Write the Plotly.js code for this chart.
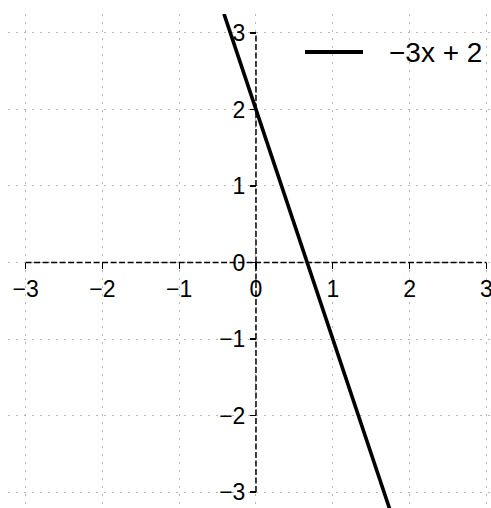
<!DOCTYPE html>
<html>
<head>
<meta charset="utf-8">
<script src="https://cdn.plot.ly/plotly-3.0.1.min.js"></script>
<style>
  html, body { margin: 0; padding: 0; background: #fff; }
  #chart { width: 491px; height: 508px; }
</style>
</head>
<body>
<div id="chart"></div>
<script>
// Line y = -3x + 2, drawn between the points where it leaves the view
const seriesName = '\u22123x + 2';
const lineX = [-0.4167, 1.75];
const lineY = [3.25, -3.25];

// Axis ticks and their labels
const xTicks = [-3, -2, -1, 0, 1, 2, 3];
const xTickText = ['\u22123', '\u22122', '\u22121', '0', '1', '2', '3'];
const yTicks = [-3, -2, -1, 0, 1, 2, 3];
const yTickText = ['\u22123', '\u22122', '\u22121', '0', '1', '2', '3'];

// Visible data window
const xRange = [-3.229, 3.06];
const yRange = [-3.209, 3.248];

const font = { family: 'Liberation Sans, Arial, sans-serif', color: '#000' };
const gridStyle = {
  showgrid: true, gridcolor: '#b8b8b8', gridwidth: 1, griddash: '2px,6px',
  zeroline: false, showline: false, showticklabels: false, ticks: ''
};

// Positions of the zero lines inside the plot area (0..1)
const xZeroFrac = (0 - xRange[0]) / (xRange[1] - xRange[0]);
const yZeroFrac = (0 - yRange[0]) / (yRange[1] - yRange[0]);

const tickAxis = {
  showgrid: false, zeroline: false, showline: false,
  ticks: 'outside', ticklen: 6, tickwidth: 1.2, tickcolor: '#000',
  tickfont: Object.assign({ size: 23 }, font), anchor: 'free',
  ticklabeloverflow: 'allow'
};

const traces = [{
  x: lineX, y: lineY, xaxis: 'x2', yaxis: 'y2',
  type: 'scatter', mode: 'lines', name: seriesName,
  line: { color: '#000', width: 3.6 }, hoverinfo: 'skip', showlegend: false
}];

const axisDash = { color: '#000', width: 1.5, dash: '6px,2.5px' };
const shapes = [
  // dashed coordinate axes through the origin
  { type: 'line', xref: 'x', yref: 'y', layer: 'above',
    x0: xTicks[0], x1: xTicks[xTicks.length - 1], y0: 0, y1: 0, line: axisDash },
  { type: 'line', xref: 'x', yref: 'y', layer: 'above',
    x0: 0, x1: 0, y0: yTicks[0], y1: yTicks[yTicks.length - 1], line: axisDash },
  // legend key
  { type: 'line', xref: 'paper', yref: 'paper',
    x0: 0.615, x1: 0.735, y0: 0.923, y1: 0.923,
    line: { color: '#000', width: 4 } }
];

const layout = {
  width: 491, height: 508,
  margin: { l: 8, r: 0, t: 14, b: 0, pad: 0 },
  paper_bgcolor: '#fff', plot_bgcolor: '#fff',
  showlegend: false,
  xaxis: Object.assign({ range: xRange, tickvals: xTicks, fixedrange: true }, gridStyle),
  yaxis: Object.assign({ range: yRange, tickvals: yTicks, fixedrange: true }, gridStyle),
  xaxis2: Object.assign({}, tickAxis, {
    overlaying: 'x', range: xRange, tickvals: xTicks, ticktext: xTickText,
    side: 'bottom', position: yZeroFrac
  }),
  yaxis2: Object.assign({}, tickAxis, {
    overlaying: 'y', range: yRange, tickvals: yTicks, ticktext: yTickText,
    side: 'left', position: xZeroFrac
  }),
  shapes: shapes,
  annotations: [{
    xref: 'paper', yref: 'paper', x: 0.785, y: 0.923,
    xanchor: 'left', yanchor: 'middle', showarrow: false,
    text: seriesName, font: Object.assign({ size: 28 }, font)
  }]
};

Plotly.newPlot('chart', traces, layout, { staticPlot: true, displayModeBar: false });
</script>
</body>
</html>
